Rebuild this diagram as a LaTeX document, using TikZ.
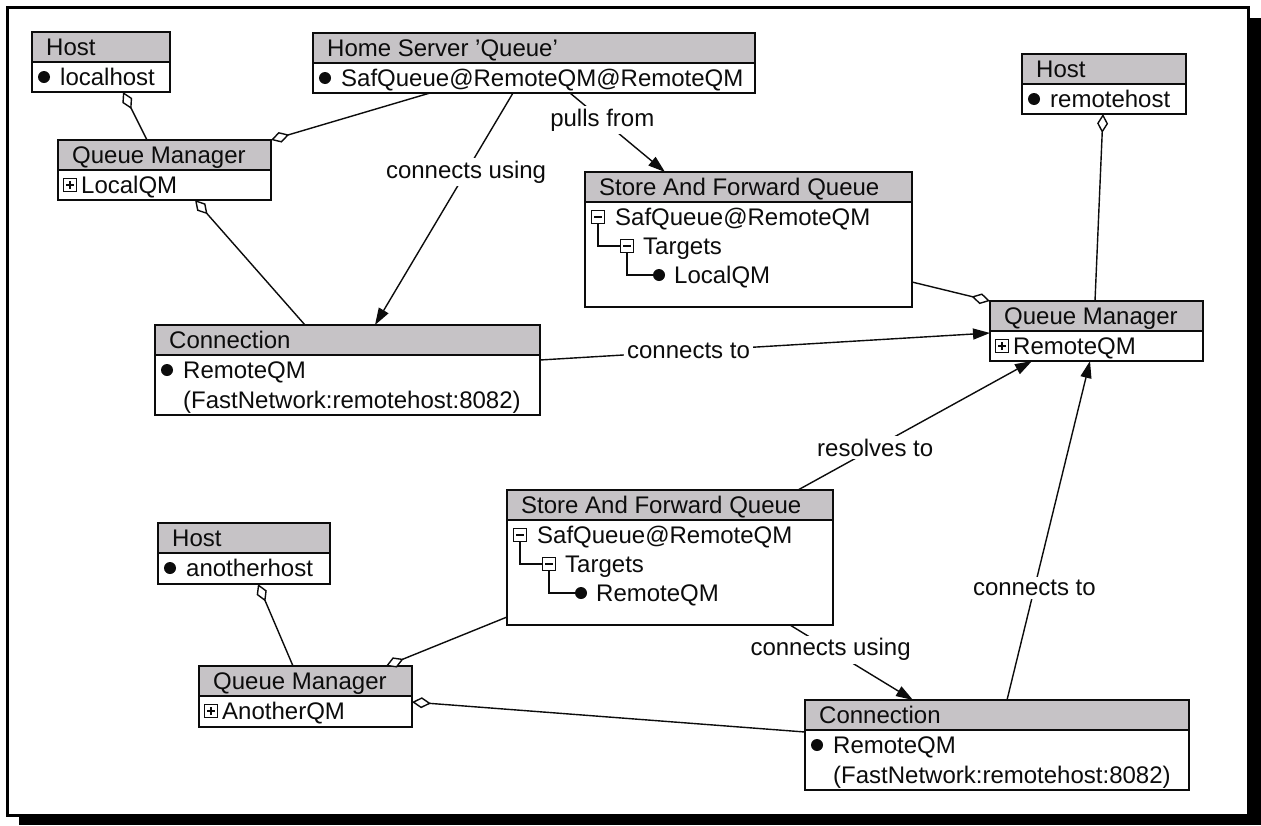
\documentclass[tikz,border=0pt]{standalone}
\usepackage{fontspec}
\setmainfont{Liberation Sans}
\usetikzlibrary{arrows.meta,calc}

\definecolor{hdrgray}{RGB}{198,195,198}
\definecolor{ink}{RGB}{12,12,12}

\tikzset{
  boxfill/.style={fill=white, inner sep=0pt, outer sep=0pt, anchor=north west},
  boxline/.style={draw=ink, line width=1.8pt},
  txt/.style={anchor=base west, inner sep=0pt, text=ink},
  link/.style={draw=ink, line width=1.4pt},
  agg/.style={link, {Diamond[fill=white,length=19pt,width=11pt,line width=1.4pt]}-},
  nav/.style={link, -{Triangle[length=17pt,width=11pt]}},
  lbl/.style={fill=white, inner sep=3pt, text=ink},
  treeline/.style={draw=ink, line width=1.8pt},
}

% class-like box: name, x1, y1, x2, y2, title
\newcommand\umlbox[6]{%
  \node[boxfill, minimum width={#4-#2}, minimum height={#5-#3}] (#1) at (#2,#3) {};
  \fill[hdrgray] (#1.north west) rectangle ([yshift=-30pt]#1.north east);
  \draw[boxline] (#1.north west) rectangle (#1.south east);
  \draw[boxline] ([yshift=-30pt]#1.north west) -- ([yshift=-30pt]#1.north east);
  \node[txt] (#1-title) at ([shift={(14pt,-23pt)}]#1.north west) {#6};
}

% row with a filled bullet: box, node name, baseline offset, text
\newcommand\bulletrow[4]{%
  \fill[ink] ([shift={(12pt,{8pt-#3pt})}]#1.north west) circle (6pt);
  \node[txt] (#2) at ([shift={(28pt,-#3pt)}]#1.north west) {#4};
}

% plain text row: box, node name, baseline offset, text
\newcommand\textrow[4]{%
  \node[txt] (#2) at ([shift={(28pt,-#3pt)}]#1.north west) {#4};
}

% row with an expand box: box, node name, baseline offset, text
\newcommand\plusrow[4]{%
  \coordinate (#2-c) at ([shift={(12pt,{8pt-#3pt})}]#1.north west);
  \draw[treeline, fill=white] ($(#2-c)+(-6.5pt,-6.5pt)$) rectangle ($(#2-c)+(6.5pt,6.5pt)$);
  \draw[treeline] ($(#2-c)+(-4pt,0pt)$) -- ($(#2-c)+(4pt,0pt)$)
                  ($(#2-c)+(0pt,-4pt)$) -- ($(#2-c)+(0pt,4pt)$);
  \node[txt] (#2) at ([shift={(23pt,-#3pt)}]#1.north west) {#4};
}

% collapsible tree: box, prefix, root text, leaf text
\newcommand\saftree[4]{%
  \coordinate (#2-s1) at ([shift={(13pt,-45pt)}]#1.north west);
  \coordinate (#2-s2) at ([shift={(42pt,-74pt)}]#1.north west);
  \coordinate (#2-b)  at ([shift={(74pt,-103pt)}]#1.north west);
  \draw[treeline] ($(#2-s1)+(0pt,-6.5pt)$) |- ($(#2-s2)+(-6.5pt,0pt)$);
  \draw[treeline] ($(#2-s2)+(0pt,-6.5pt)$) |- (#2-b);
  \foreach \s in {#2-s1,#2-s2}{
    \draw[treeline, fill=white] ($(\s)+(-6.5pt,-6.5pt)$) rectangle ($(\s)+(6.5pt,6.5pt)$);
    \draw[treeline] ($(\s)+(-4pt,0pt)$) -- ($(\s)+(4pt,0pt)$);
  }
  \fill[ink] (#2-b) circle (6pt);
  \node[txt] (#2-root)    at ([shift={(30pt,-53pt)}]#1.north west) {#3};
  \node[txt] (#2-targets) at ([shift={(58pt,-82pt)}]#1.north west) {Targets};
  \node[txt] (#2-leaf)    at ([shift={(89pt,-111pt)}]#1.north west) {#4};
}

\begin{document}
\begin{tikzpicture}[x=1pt, y=-1pt, font=\fontsize{24}{28}\selectfont]
  \useasboundingbox (0,0) rectangle (1261,825);

  % frame with drop shadow
  \fill[black] (19,18) rectangle (1261,825);
  \draw[black, line width=3pt, fill=white] (7,7) rectangle (1248.5,815);

  % boxes
  \umlbox{hostL}{32}{32}{170}{92}{Host}
  \bulletrow{hostL}{hostL-r1}{53}{localhost}

  \umlbox{qmL}{58}{140}{271}{200}{Queue Manager}
  \plusrow{qmL}{qmL-r1}{53}{LocalQM}

  \umlbox{home}{313}{33}{755}{93}{Home Server 'Queue'}
  \bulletrow{home}{home-r1}{53}{SafQueue@RemoteQM@RemoteQM}

  \umlbox{safA}{585}{172}{912}{307}{Store And Forward Queue}
  \saftree{safA}{safA}{SafQueue@RemoteQM}{LocalQM}

  \umlbox{hostR}{1022}{54}{1186}{114}{Host}
  \bulletrow{hostR}{hostR-r1}{53}{remotehost}

  \umlbox{qmR}{990}{301}{1203}{361}{Queue Manager}
  \plusrow{qmR}{qmR-r1}{53}{RemoteQM}

  \umlbox{connA}{155}{325}{540}{415}{Connection}
  \bulletrow{connA}{connA-r1}{53}{RemoteQM}
  \textrow{connA}{connA-r2}{83}{(FastNetwork:remotehost:8082)}

  \umlbox{safB}{507}{490}{833}{625}{Store And Forward Queue}
  \saftree{safB}{safB}{SafQueue@RemoteQM}{RemoteQM}

  \umlbox{hostB}{158}{523}{330}{584}{Host}
  \bulletrow{hostB}{hostB-r1}{53}{anotherhost}

  \umlbox{qmB}{199}{666}{412}{727}{Queue Manager}
  \plusrow{qmB}{qmB-r1}{53}{AnotherQM}

  \umlbox{connB}{805}{700}{1189}{790}{Connection}
  \bulletrow{connB}{connB-r1}{53}{RemoteQM}
  \textrow{connB}{connB-r2}{83}{(FastNetwork:remotehost:8082)}

  % aggregation links (hollow diamond at the owner)
  \draw[agg] ([xshift=91pt]hostL.south west) -- ([xshift=89pt]qmL.north west);
  \draw[agg] (qmL.north east) -- ([xshift=117pt]home.south west);
  \draw[agg] ([xshift=137pt]qmL.south west) -- ([xshift=150pt]connA.north west);
  \draw[agg] (qmR.north west) -- ([yshift=-110pt]safA.north east);
  \draw[agg] ([xshift=81pt]hostR.south west) -- ([xshift=105pt]qmR.north west);
  \draw[agg] ([xshift=100pt]hostB.south west) -- ([xshift=94pt]qmB.north west);
  \draw[agg] ([xshift=187pt]qmB.north west) -- ([yshift=-127pt]safB.north west);
  \draw[agg] ([yshift=-36pt]qmB.north east) -- ([yshift=-32pt]connB.north west);

  % navigable associations
  \draw[nav] ([xshift=200pt]home.south west) -- node[lbl, pos=0.34] {connects using} ([xshift=220pt]connA.north west);
  \draw[nav] ([xshift=257pt]home.south west) -- node[lbl, pos=0.34] {pulls from} ([xshift=80pt]safA.north west);
  \draw[nav] ([yshift=-35pt]connA.north east) -- node[lbl, pos=0.33] {connects to} ([yshift=-32pt]qmR.north west);
  \draw[nav] ([xshift=291pt]safB.north west) -- node[lbl, pos=0.33] {resolves to} ([xshift=42pt]qmR.south west);
  \draw[nav] ([xshift=202pt]connB.north west) -- node[lbl, pos=0.33] {connects to} ([xshift=100pt]qmR.south west);
  \draw[nav] ([xshift=283pt]safB.south west) -- node[lbl, pos=0.33] {connects using} ([xshift=108pt]connB.north west);
\end{tikzpicture}
\end{document}
